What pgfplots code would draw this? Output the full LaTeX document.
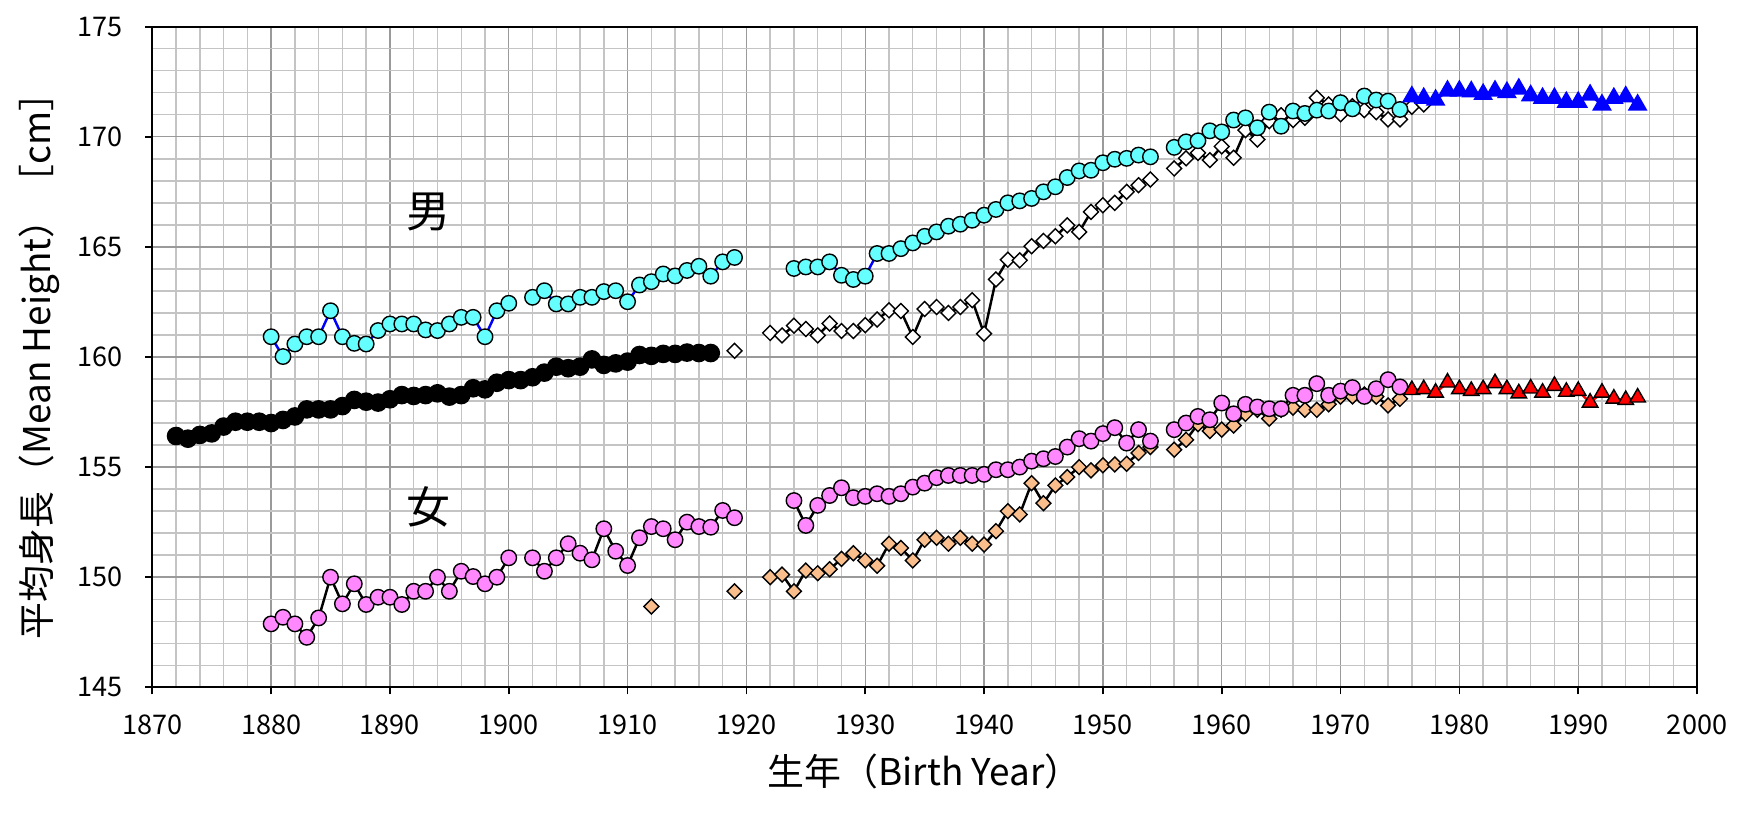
\documentclass[border=0pt]{standalone}
\usepackage{fontspec}
\setmainfont{Noto Sans CJK JP}
\usepackage{pgfplots}
\pgfplotsset{compat=1.18}
\definecolor{cyanM}{HTML}{66FFFF}
\definecolor{pinkF}{HTML}{FF88FF}
\definecolor{peachF}{HTML}{F9BE8C}
\definecolor{majgrid}{HTML}{9A9A9A}
\definecolor{mingrid}{HTML}{C4C4C4}
\begin{document}
\begin{tikzpicture}
\begin{axis}[
  at={(0,0)}, anchor=south west,
  scale only axis, width=15.447cm, height=6.606cm,
  xmin=1870, xmax=2000, ymin=145, ymax=175,
  xtick={1870,1880,...,2000}, ytick={145,150,...,175},
  minor x tick num=4, minor y tick num=4,
  minor tick length=0pt, major tick length=0.07cm,
  tick align=outside, tick pos=left,
  grid=both,
  major grid style={draw=majgrid, line width=0.4pt},
  minor grid style={draw=mingrid, line width=0.4pt},
  axis line style={black, line width=0.6pt},
  major tick style={black, line width=0.5pt},
  /pgf/number format/1000 sep={},
  /pgf/number format/assume math mode=true,
  xticklabel style={font=\fontsize{7.7}{9}\selectfont, anchor=center, inner sep=0pt, yshift=-0.31cm},
  yticklabel style={font=\fontsize{7.7}{9}\selectfont, anchor=east, inner sep=0pt, xshift=-0.22cm},
  xlabel={生年（Birth Year）},
  ylabel={平均身長（Mean Height）［cm］},
  xlabel style={font=\fontsize{10.5}{12}\selectfont, at={(axis description cs:0.5,0)}, anchor=center, yshift=-0.84cm},
  ylabel style={font=\fontsize{10.5}{12}\selectfont, at={(axis description cs:0,0.5)}, anchor=center, yshift=1.13cm},
  unbounded coords=jump,
  clip=false,
]
% male, white diamonds
\addplot[black, line width=0.7pt, mark=square*, mark size=1.5pt,
  mark options={rotate=45, fill=white, draw=black, line width=0.4pt, solid}]
coordinates {
(1919,160.28) (1920,nan)
(1922,161.09) (1923,160.98) (1924,161.42) (1925,161.27) (1926,160.98) (1927,161.52)
(1928,161.18) (1929,161.18) (1930,161.45) (1931,161.70) (1932,162.12) (1933,162.09)
(1934,160.91) (1935,162.18) (1936,162.27) (1937,162.00) (1938,162.27) (1939,162.58)
(1940,161.06) (1941,163.52) (1942,164.42) (1943,164.39) (1944,165.03) (1945,165.27)
(1946,165.48) (1947,165.98) (1948,165.68) (1949,166.59) (1950,166.89) (1951,167.00)
(1952,167.50) (1953,167.80) (1954,168.06) (1955,nan)
(1956,168.56) (1957,169.02) (1958,169.27) (1959,168.94) (1960,169.56) (1961,169.05)
(1962,170.30) (1963,169.88) (1964,170.71) (1965,170.98) (1966,170.76) (1967,170.86)
(1968,171.77) (1969,171.47) (1970,171.02) (1971,171.39) (1972,171.21) (1973,171.12)
(1974,170.79) (1975,170.79) (1976,171.36) (1977,171.47)
};
% male, cyan circles
\addplot[blue, line width=0.7pt, mark=*, mark size=2.2pt,
  mark options={fill=cyanM, draw=black, line width=0.4pt, solid}]
coordinates {
(1880,160.92) (1881,160.02) (1882,160.59) (1883,160.92) (1884,160.92) (1885,162.10)
(1886,160.92) (1887,160.62) (1888,160.59) (1889,161.20) (1890,161.50) (1891,161.50)
(1892,161.50) (1893,161.23) (1894,161.20) (1895,161.50) (1896,161.80) (1897,161.80)
(1898,160.92) (1899,162.10) (1900,162.44) (1901,nan)
(1902,162.71) (1903,163.01) (1904,162.41) (1905,162.41) (1906,162.71) (1907,162.71)
(1908,162.97) (1909,163.01) (1910,162.51) (1911,163.27) (1912,163.42) (1913,163.77)
(1914,163.68) (1915,163.93) (1916,164.12) (1917,163.67) (1918,164.32) (1919,164.52)
(1920,nan)
(1924,164.02) (1925,164.09) (1926,164.09) (1927,164.32) (1928,163.71) (1929,163.52)
(1930,163.67) (1931,164.70) (1932,164.70) (1933,164.92) (1934,165.18) (1935,165.48)
(1936,165.68) (1937,165.94) (1938,166.03) (1939,166.21) (1940,166.44) (1941,166.70)
(1942,167.00) (1943,167.09) (1944,167.20) (1945,167.50) (1946,167.73) (1947,168.15)
(1948,168.45) (1949,168.48) (1950,168.82) (1951,168.98) (1952,169.02) (1953,169.17)
(1954,169.09) (1955,nan)
(1956,169.52) (1957,169.77) (1958,169.82) (1959,170.27) (1960,170.22) (1961,170.76)
(1962,170.86) (1963,170.41) (1964,171.12) (1965,170.48) (1966,171.17) (1967,171.06)
(1968,171.21) (1969,171.17) (1970,171.55) (1971,171.27) (1972,171.85) (1973,171.67)
(1974,171.62) (1975,171.24)
};
% old series, black circles
\addplot[black, line width=0.7pt, mark=*, mark size=2.3pt,
  mark options={fill=black, draw=black, solid}]
coordinates {
(1872,156.41) (1873,156.29) (1874,156.46) (1875,156.53) (1876,156.84) (1877,157.06)
(1878,157.06) (1879,157.06) (1880,157.00) (1881,157.14) (1882,157.30) (1883,157.62)
(1884,157.62) (1885,157.62) (1886,157.77) (1887,158.05) (1888,157.97) (1889,157.93)
(1890,158.08) (1891,158.27) (1892,158.23) (1893,158.27) (1894,158.35) (1895,158.20)
(1896,158.27) (1897,158.58) (1898,158.53) (1899,158.83) (1900,158.95) (1901,158.95)
(1902,159.08) (1903,159.29) (1904,159.56) (1905,159.49) (1906,159.56) (1907,159.89)
(1908,159.64) (1909,159.71) (1910,159.79) (1911,160.09) (1912,160.05) (1913,160.14)
(1914,160.14) (1915,160.20) (1916,160.18) (1917,160.18)
};
% male, blue triangles
\addplot[blue, line width=0.7pt, mark=triangle*, mark size=2.55pt,
  mark options={fill=blue, draw=blue, solid}]
coordinates {
(1976,171.82) (1977,171.75) (1978,171.67) (1979,172.08) (1980,172.08) (1981,172.05)
(1982,171.93) (1983,172.08) (1984,172.02) (1985,172.17) (1986,171.87) (1987,171.75)
(1988,171.75) (1989,171.57) (1990,171.57) (1991,171.90) (1992,171.45) (1993,171.75)
(1994,171.82) (1995,171.45)
};
% female, peach diamonds
\addplot[black, line width=0.7pt, mark=square*, mark size=1.5pt,
  mark options={rotate=45, fill=peachF, draw=black, line width=0.4pt, solid}]
coordinates {
(1912,148.67) (1913,nan)
(1919,149.36) (1920,nan)
(1922,150.00) (1923,150.12) (1924,149.36) (1925,150.30) (1926,150.18) (1927,150.36)
(1928,150.83) (1929,151.09) (1930,150.76) (1931,150.52) (1932,151.52) (1933,151.33)
(1934,150.76) (1935,151.70) (1936,151.79) (1937,151.52) (1938,151.79) (1939,151.52)
(1940,151.48) (1941,152.09) (1942,153.00) (1943,152.85) (1944,154.27) (1945,153.36)
(1946,154.17) (1947,154.55) (1948,155.00) (1949,154.85) (1950,155.08) (1951,155.12)
(1952,155.15) (1953,155.64) (1954,155.91) (1955,nan)
(1956,155.79) (1957,156.24) (1958,156.95) (1959,156.64) (1960,156.70) (1961,156.89)
(1962,157.42) (1963,157.60) (1964,157.20) (1965,157.60) (1966,157.70) (1967,157.60)
(1968,157.60) (1969,157.85) (1970,158.20) (1971,158.21) (1972,158.30) (1973,158.20)
(1974,157.80) (1975,158.10)
};
% female, pink circles
\addplot[black, line width=0.7pt, mark=*, mark size=2.2pt,
  mark options={fill=pinkF, draw=black, line width=0.4pt, solid}]
coordinates {
(1880,147.88) (1881,148.18) (1882,147.88) (1883,147.27) (1884,148.15) (1885,150.00)
(1886,148.79) (1887,149.70) (1888,148.76) (1889,149.09) (1890,149.09) (1891,148.76)
(1892,149.36) (1893,149.36) (1894,150.00) (1895,149.36) (1896,150.27) (1897,150.03)
(1898,149.70) (1899,150.00) (1900,150.88) (1901,nan)
(1902,150.88) (1903,150.27) (1904,150.88) (1905,151.52) (1906,151.09) (1907,150.79)
(1908,152.20) (1909,151.18) (1910,150.53) (1911,151.79) (1912,152.30) (1913,152.20)
(1914,151.70) (1915,152.50) (1916,152.30) (1917,152.27) (1918,153.03) (1919,152.70)
(1920,nan)
(1924,153.48) (1925,152.35) (1926,153.26) (1927,153.71) (1928,154.06) (1929,153.61)
(1930,153.67) (1931,153.79) (1932,153.67) (1933,153.79) (1934,154.09) (1935,154.27)
(1936,154.52) (1937,154.62) (1938,154.62) (1939,154.62) (1940,154.67) (1941,154.88)
(1942,154.88) (1943,155.00) (1944,155.27) (1945,155.38) (1946,155.48) (1947,155.91)
(1948,156.29) (1949,156.18) (1950,156.52) (1951,156.79) (1952,156.09) (1953,156.70)
(1954,156.18) (1955,nan)
(1956,156.70) (1957,157.00) (1958,157.30) (1959,157.15) (1960,157.91) (1961,157.42)
(1962,157.85) (1963,157.73) (1964,157.65) (1965,157.65) (1966,158.26) (1967,158.26)
(1968,158.79) (1969,158.26) (1970,158.45) (1971,158.61) (1972,158.21) (1973,158.56)
(1974,158.97) (1975,158.64)
};
% female, red triangles
\addplot[red, line width=0.7pt, mark=triangle*, mark size=2.55pt,
  mark options={fill=red, draw=black, line width=0.4pt, solid}]
coordinates {
(1976,158.50) (1977,158.54) (1978,158.38) (1979,158.84) (1980,158.54) (1981,158.46)
(1982,158.54) (1983,158.81) (1984,158.54) (1985,158.35) (1986,158.57) (1987,158.38)
(1988,158.69) (1989,158.42) (1990,158.46) (1991,157.93) (1992,158.38) (1993,158.11)
(1994,158.05) (1995,158.16)
};
\node[font=\fontsize{12.5}{14}\selectfont] at (axis cs:1893.2,166.6) {男};
\node[font=\fontsize{12.5}{14}\selectfont] at (axis cs:1893.2,153.2) {女};
\end{axis}
\pgfresetboundingbox
\useasboundingbox (-1.523cm,-1.277cm) rectangle (16.037cm,6.873cm);
\end{tikzpicture}
\end{document}
